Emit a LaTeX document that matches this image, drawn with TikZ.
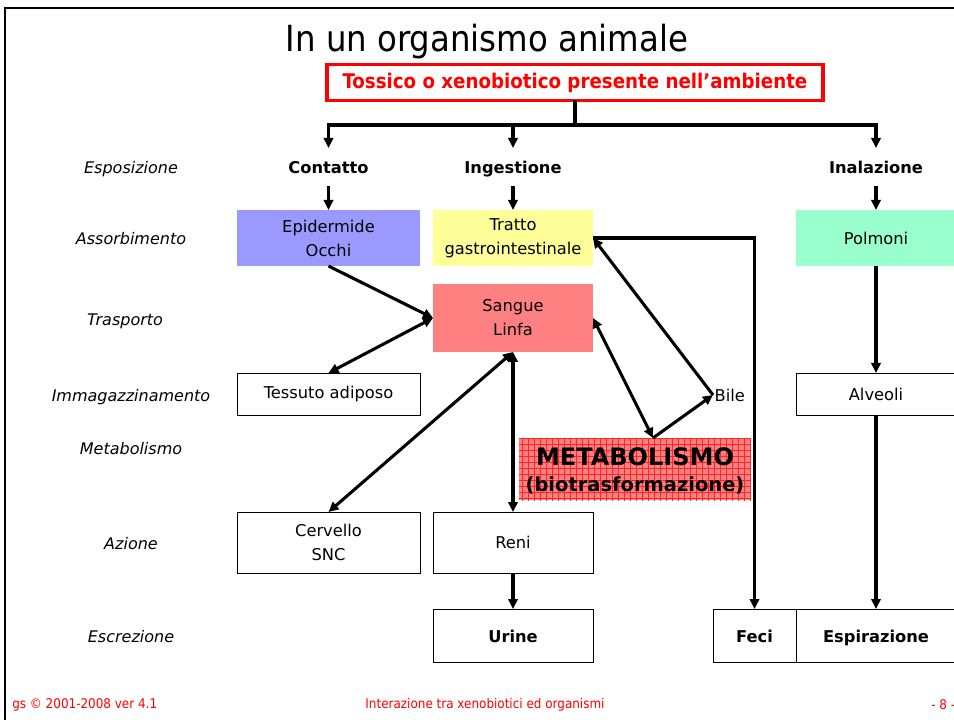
\documentclass[tikz,border=0pt]{standalone}
\usepackage{fontspec}
\setmainfont{DejaVu Sans}
\newfontfamily\cond{DejaVu Sans Condensed}
\usetikzlibrary{arrows.meta}
\definecolor{blu}{HTML}{9999FF}
\definecolor{gia}{HTML}{FFFF99}
\definecolor{verde}{HTML}{99FFCC}
\definecolor{rosa}{HTML}{FF8080}
\tikzset{
  arr/.style={line width=2.3pt,-{Triangle[length=7.5pt,width=7pt]}},
  darr/.style={line width=2.3pt,{Triangle[length=7.5pt,width=7pt]}-{Triangle[length=7.5pt,width=7pt]}},
  ln/.style={line width=2.3pt},
  bx/.style={inner sep=0pt,outer sep=0pt,align=center,font=\fontsize{12.2}{18}\selectfont},
  wbx/.style={bx,draw=black,line width=0.6pt,fill=white},
  bbx/.style={wbx,font=\fontsize{12.2}{14}\selectfont\bfseries,text height=12pt,text depth=2pt},
  lbl/.style={font=\fontsize{12}{14}\selectfont\itshape,inner sep=0pt,text height=12pt,text depth=2pt},
  hdr/.style={font=\fontsize{12.2}{14}\selectfont\bfseries,text height=12pt,text depth=2pt,minimum height=28.5pt,inner sep=0pt,outer sep=0pt},
  foot/.style={font=\cond\fontsize{10}{12}\selectfont,text=red,inner sep=0pt}
}
\begin{document}
\begin{tikzpicture}[x=0.75pt,y=-0.75pt]
\useasboundingbox (0,0) rectangle (954,720);
% frame
\draw[line width=1.6pt] (5,720) -- (5,8) -- (960,8);
% title
\node[font=\cond\fontsize{27}{30}\selectfont,inner sep=0pt] (title) at (487,42) {In un organismo animale};
\node[draw=red,line width=2.3pt,inner sep=0pt,outer sep=0pt,minimum width=372pt,minimum height=27pt,
  font=\cond\fontsize{15.2}{17}\selectfont\bfseries,text=red] (tox) at (575,82.5) {Tossico o xenobiotico presente nell’ambiente};
% header labels
\node[hdr] (cont) at (328.5,167) {Contatto};
\node[hdr] (ing) at (513,167) {Ingestione};
\node[hdr] (inal) at (876,167) {Inalazione};
\coordinate (jn) at (575,125);
\draw[ln] (tox.south) -- (jn);
\draw[arr] (jn) -| (cont.north);
\draw[arr] (jn) -| (inal.north);
\draw[arr] (jn -| ing.north) -- (ing.north);
% left labels
\node[lbl] (l1) at (131,167) {Esposizione};
\node[lbl] (l2) at (131,238) {Assorbimento};
\node[lbl] (l3) at (125,319) {Trasporto};
\node[lbl] (l4) at (131,395) {Immagazzinamento};
\node[lbl] (l5) at (131,448) {Metabolismo};
\node[lbl] (l6) at (131,543) {Azione};
\node[lbl] (l7) at (131,636) {Escrezione};
% boxes
\node[bx,fill=blu,minimum width=137.25pt,minimum height=42pt] (epi) at (328.5,238) {Epidermide\\Occhi};
\node[bx,fill=gia,minimum width=120pt,minimum height=42pt] (tratto) at (513,238) {Tratto\\gastrointestinale};
\node[bx,fill=verde,minimum width=120pt,minimum height=42pt] (polm) at (876,238) {Polmoni};
\node[bx,fill=rosa,minimum width=120pt,minimum height=51pt] (sang) at (513,318) {Sangue\\Linfa};
\node[wbx,minimum width=137.25pt,minimum height=31.5pt] (tess) at (328.5,394) {Tessuto adiposo};
\node[wbx,minimum width=120pt,minimum height=31.5pt] (alv) at (876,394) {Alveoli};
\node[wbx,minimum width=137.25pt,minimum height=45.75pt] (cerv) at (328.5,542.5) {Cervello\\SNC};
\node[wbx,minimum width=120pt,minimum height=45.75pt] (reni) at (513,542.5) {Reni};
\node[bbx,minimum width=120pt,minimum height=39.75pt] (urine) at (513,635.5) {Urine};
\node[bbx,minimum width=62.25pt,minimum height=39.75pt] (feci) at (754.5,635.5) {Feci};
\node[bbx,minimum width=120pt,minimum height=39.75pt] (espi) at (876,635.5) {Espirazione};
\node[font=\fontsize{12.2}{14}\selectfont,anchor=west,inner sep=1pt] (bile) at (713,395) {Bile};
% metabolismo box
\begin{scope}
\clip (519,438) rectangle (751,500);
\fill[rosa] (519,438) rectangle (751,500);
\draw[red!85!white,line width=0.5pt,step=4.5pt] (519,438) grid (760,510);
\end{scope}
\node[inner sep=0pt,outer sep=0pt,minimum width=174pt,minimum height=46.5pt,align=center,
  font=\bfseries\fontsize{18}{20}\selectfont] (metab) at (635,471)
  {METABOLISMO\\{\fontsize{14.6}{20}\selectfont (biotrasformazione)}};
\coordinate (mtop) at (653,438);
% connectors
\draw[arr] (epi.south) -- (sang.west);
\draw[darr] (sang.west) -- (tess.north);
\draw[darr] (sang.south) -- (cerv.north);
\draw[darr] (sang.south) -- (reni.north);
\draw[arr] (reni.south) -- (urine.north);
\draw[darr] (sang.east) -- (mtop);
\draw[arr] (mtop) -- (bile.west);
\draw[arr] (bile.west) -- (tratto.east);
\draw[arr] (tratto.east) -| (feci.north);
\draw[arr] (cont.south) -- (epi.north);
\draw[arr] (ing.south) -- (tratto.north);
\draw[arr] (inal.south) -- (polm.north);
\draw[arr] (polm.south) -- (alv.north);
\draw[arr] (alv.south) -- (espi.north);
% footer
\node[foot,anchor=west] (f1) at (12,705) {gs © 2001-2008 ver 4.1};
\node[foot] (f2) at (485,705) {Interazione tra xenobiotici ed organismi};
\node[foot,anchor=west] (f3) at (931,705) {- 8 -};
\end{tikzpicture}
\end{document}
